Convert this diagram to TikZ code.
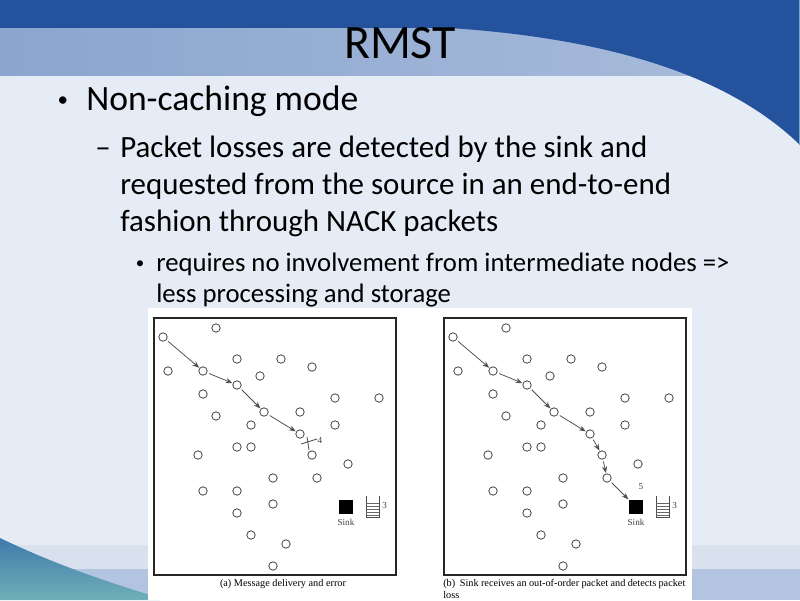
\documentclass[tikz,border=0pt]{standalone}
\usepackage{fontspec}
\setmainfont{Carlito}
\newfontfamily\capfont{Liberation Serif}
\usetikzlibrary{arrows.meta, positioning, calc}

\definecolor{topblue}{HTML}{24529D}
\definecolor{bandleft}{HTML}{8BA5CE}
\definecolor{bandright}{HTML}{AABDDC}
\definecolor{bodybg}{HTML}{E6ECF6}
\definecolor{footone}{HTML}{D9E1EE}
\definecolor{foottwo}{HTML}{B2C4E0}
\definecolor{waveblue}{HTML}{3F7AAA}
\definecolor{waveteal}{HTML}{6FB0B8}
\definecolor{motegray}{HTML}{404040}
\definecolor{hopgray}{HTML}{505050}

\begin{document}
\begin{tikzpicture}[x=0.025cm, y=-0.025cm, >={Stealth[length=1.7mm, width=1.3mm]},
  mote/.style={circle, draw=motegray, fill=white, line width=0.55pt, inner sep=0pt, minimum size=0.21cm},
  sinkbox/.style={rectangle, fill=black, inner sep=0pt, minimum size=0.35cm},
  hop/.style={->, draw=hopgray, line width=0.55pt, shorten <=1.5pt, shorten >=0.3pt},
  small/.style={font=\capfont\fontsize{6.5}{7}\selectfont, text=black!75, inner sep=0pt}]
  \useasboundingbox (0,0) rectangle (800,600);
  % fondo de la diapositiva
  \fill[bodybg] (0,0) rectangle (800,600);
  \shade[left color=bandleft, right color=bandright] (0,27) rectangle (800,75);
  \fill[topblue] (0,0) rectangle (800,28);
  \fill[topblue] (450,0) -- (450,28) .. controls (600,38) and (725,72) .. (800,145) -- (800,0) -- cycle;
  \draw[waveteal, line width=1pt] (799.5,0) -- (799.5,145);
  \fill[footone] (0,545) rectangle (800,600);
  \fill[foottwo] (0,569) rectangle (800,600);
  \shade[top color=waveblue, bottom color=waveteal] (0,538) .. controls (50,562) and (100,580) .. (160,598) -- (160,600) -- (0,600) -- cycle;
  \fill[white] (148,308) rectangle (692,600);
  % textos
  \node[anchor=base] (title) at (400,58) {\fontsize{34}{40}\selectfont RMST};
  \node[anchor=base] (dot1) at (63,106) {\fontsize{15}{18}\selectfont •};
  \node[anchor=base west, inner sep=0pt] (l1) at (86,110) {\fontsize{25.3}{30}\selectfont Non-caching mode};
  \node[anchor=base west, inner sep=0pt] (dash) at (95,157) {\fontsize{22}{26}\selectfont –};
  \node[anchor=base west, inner sep=0pt] (l2) at (120,157) {\fontsize{22}{26}\selectfont Packet losses are detected by the sink and};
  \node[anchor=base west, inner sep=0pt] (l3) at (120,194) {\fontsize{22}{26}\selectfont requested from the source in an end-to-end};
  \node[anchor=base west, inner sep=0pt] (l4) at (120,231) {\fontsize{22}{26}\selectfont fashion through NACK packets};
  \node[anchor=base] (dot2) at (140,268) {\fontsize{12}{14}\selectfont •};
  \node[anchor=base west, inner sep=0pt] (l5) at (156,271) {\fontsize{19}{22}\selectfont requires no involvement from intermediate nodes =>};
  \node[anchor=base west, inner sep=0pt] (l6) at (156,302) {\fontsize{19}{22}\selectfont less processing and storage};
  % los dos paneles: nodos, sumidero y cola
  \foreach \p/\dx in {a/0, b/290} {
    \draw[line width=0.8pt, black!85] (154+\dx,318) rectangle (396+\dx,575);
    \foreach \px/\py [count=\i] in {163/337, 216/328, 168/371, 203/371, 237/359, 281/359, 312/367, 260/376,
        237/385, 203/394, 335/398, 379/398, 216/416, 264/412, 300/412, 251/425, 335/425, 300/434,
        237/447, 251/447, 198/455, 312/455, 348/464, 273/478, 317/478, 203/491, 237/491, 273/504,
        237/513, 251/535, 286/544, 273/566}
      \node[mote] (\p\i) at (\px+\dx,\py) {};
    \node[sinkbox] (sink\p) at (346+\dx,507) {};
    \node[small, below=3pt of sink\p] (sinklbl\p) {Sink};
    \coordinate (queue\p) at (366+\dx,496);
    \draw[black!70, line width=0.5pt] (queue\p) -- ++(0,21) -- ++(13,0) -- ++(0,-21);
    \foreach \k in {7,10,13,16,19}
      \draw[black!60, line width=0.4pt] (queue\p) ++(0,\k) -- ++(13,0);
    \node[small, anchor=west] (qlbl\p) at (382+\dx,506) {3};
  }
  % (a) entrega del mensaje y error
  \draw[hop] (a1) -- (a4);
  \draw[hop] (a4) -- (a9);
  \draw[hop] (a9) -- (a14);
  \draw[hop] (a14) -- (a18);
  \coordinate (err) at (308,443);
  \draw[hopgray, line width=0.6pt] ($(err)+(-7,1)$) -- ($(err)+(9,-4)$);
  \draw[hopgray, line width=0.6pt] ($(err)+(-1,-6)$) -- ($(err)+(1,7)$);
  \node[small] (lost) at (320,440) {4};
  \node[font=\capfont\fontsize{7.3}{9}\selectfont, inner sep=0pt] (capa) at (283,584) {(a) Message delivery and error};
  % (b) el sumidero recibe un paquete fuera de orden
  \draw[hop] (b1) -- (b4);
  \draw[hop] (b4) -- (b9);
  \draw[hop] (b9) -- (b14);
  \draw[hop] (b14) -- (b18);
  \draw[hop] (b18) -- (b22);
  \draw[hop] (b22) -- (b25);
  \draw[hop] (b25) -- (sinkb);
  \node[small] (seq) at (641,487) {5};
  \node[font=\capfont\fontsize{7.3}{8.2}\selectfont, inner sep=0pt, anchor=north west, text width=6.05cm, align=justify] (capb) at (443,579)
    {(b)\ \ Sink receives an out-of-order packet and detects packet loss};
\end{tikzpicture}
\end{document}
